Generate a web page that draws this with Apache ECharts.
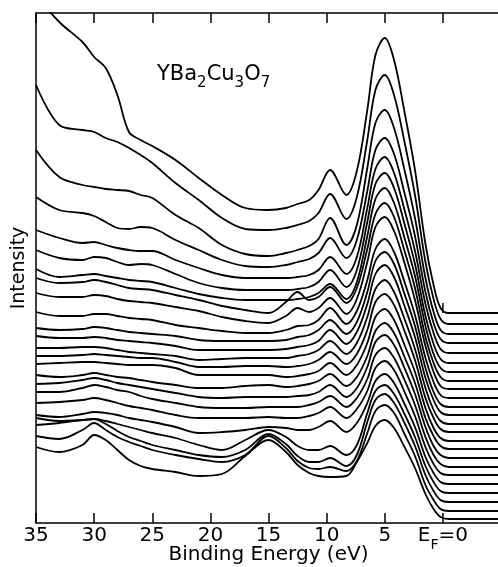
<!DOCTYPE html>
<html>
<head>
<meta charset="utf-8">
<script src="https://cdn.jsdelivr.net/npm/echarts@6/dist/echarts.min.js"></script>
<style>
html, body { margin: 0; padding: 0; background: #fff; }
#chart { width: 498px; height: 567px; }
</style>
</head>
<body>
<div id="chart"></div>
<script>
// binding energy (eV) at which every spectrum is sampled
const energies = [35, 33, 31, 30, 29, 28, 27, 26, 25, 23, 21, 19, 17, 15, 13.5, 12.5, 11.5, 10.7, 9.7, 8.3, 7.4, 6.5, 5.8, 5, 4.2, 3.3, 2.4, 1.5, 0.8, 0.2, -0.5, -5];

// intensity (arb. units, offsets included), top spectrum first
const spec01 = [528, 501, 481, 466, 455, 428, 391, 383, 377, 363, 345, 328, 315, 313, 315, 319, 323, 333, 353, 328, 352, 413, 468, 485, 463, 411, 353, 279, 238, 215, 210, 210];
const spec02 = [438, 398, 393, 391, 385, 381, 375, 368, 360, 340, 323, 305, 294, 293, 295, 298, 302, 310, 329, 304, 326, 383, 433, 448, 428, 381, 328, 261, 224, 204, 199, 199];
const spec03 = [373, 346, 338, 336, 334, 333, 332, 328, 325, 308, 295, 278, 269, 267, 270, 273, 277, 284, 305, 278, 298, 355, 400, 413, 395, 353, 305, 245, 211, 193, 189, 189];
const spec04 = [326, 313, 310, 307, 301, 295, 294, 296, 295, 283, 273, 263, 257, 256, 258, 261, 264, 270, 285, 265, 283, 332, 373, 385, 369, 330, 287, 231, 200, 184, 180, 180];
const spec05 = [293, 285, 280, 281, 278, 275, 273, 272, 272, 263, 255, 248, 245, 245, 245, 246, 248, 253, 266, 249, 266, 315, 354, 366, 350, 313, 272, 219, 190, 174, 170, 170];
const spec06 = [273, 265, 263, 266, 265, 261, 258, 259, 258, 249, 240, 235, 233, 233, 233, 234, 236, 241, 253, 236, 253, 301, 339, 350, 335, 299, 259, 207, 179, 164, 160, 160];
const spec07 = [254, 246, 248, 249, 247, 245, 243, 242, 241, 235, 229, 225, 223, 223, 223, 224, 226, 230, 239, 224, 241, 287, 324, 335, 320, 285, 247, 197, 169, 155, 151, 151];
const spec08 = [245, 240, 241, 243, 241, 238, 235, 234, 233, 228, 223, 217, 213, 210, 221, 231, 223, 226, 236, 220, 235, 274, 309, 320, 306, 272, 235, 186, 160, 146, 142, 142];
const spec09 = [230, 226, 226, 228, 227, 224, 222, 221, 220, 216, 212, 206, 202, 200, 207, 215, 211, 215, 225, 209, 224, 261, 296, 306, 292, 260, 223, 177, 151, 137, 134, 134];
const spec10 = [211, 207, 207, 209, 209, 207, 205, 204, 203, 198, 195, 192, 190, 190, 193, 197, 198, 203, 215, 199, 212, 243, 274, 284, 271, 241, 208, 165, 141, 128, 125, 125];
const spec11 = [195, 193, 194, 196, 195, 193, 191, 190, 189, 187, 183, 182, 182, 182, 183, 186, 188, 193, 203, 189, 201, 231, 262, 271, 259, 229, 197, 155, 131, 119, 116, 116];
const spec12 = [187, 185, 185, 186, 185, 183, 182, 181, 180, 177, 173, 173, 173, 173, 174, 176, 178, 182, 193, 179, 191, 219, 249, 258, 246, 217, 186, 145, 123, 111, 108, 108];
const spec13 = [175, 175, 176, 176, 175, 173, 171, 170, 169, 167, 163, 164, 165, 165, 165, 167, 169, 173, 182, 169, 180, 206, 234, 243, 231, 204, 174, 135, 113, 102, 99, 99];
const spec14 = [167, 167, 168, 169, 168, 167, 166, 165, 165, 161, 156, 156, 157, 157, 156, 157, 159, 163, 171, 159, 169, 193, 221, 229, 218, 192, 163, 125, 105, 94, 91, 91];
const spec15 = [159, 160, 161, 161, 160, 159, 158, 158, 158, 155, 148, 148, 148, 148, 146, 147, 149, 152, 160, 148, 158, 180, 206, 214, 203, 178, 151, 115, 95, 85, 82, 82];
const spec16 = [148, 146, 148, 150, 148, 146, 145, 143, 141, 138, 135, 135, 137, 138, 136, 137, 139, 142, 149, 137, 146, 167, 192, 200, 190, 166, 140, 105, 87, 77, 74, 74];
const spec17 = [139, 140, 143, 145, 143, 140, 138, 136, 134, 130, 126, 125, 126, 126, 126, 127, 128, 131, 138, 126, 135, 156, 181, 188, 178, 155, 129, 96, 77, 68, 65, 65];
const spec18 = [131, 131, 135, 138, 136, 133, 131, 127, 124, 120, 116, 115, 115, 116, 116, 116, 118, 121, 127, 116, 125, 144, 168, 175, 165, 143, 118, 86, 68, 59, 56, 56];
const spec19 = [120, 121, 123, 125, 123, 120, 117, 115, 113, 108, 105, 105, 105, 106, 105, 105, 107, 110, 116, 105, 114, 132, 155, 162, 153, 131, 107, 76, 59, 50, 48, 48];
const spec20 = [108, 106, 109, 111, 110, 108, 105, 103, 101, 96, 90, 91, 93, 96, 95, 93, 93, 96, 102, 91, 100, 120, 142, 149, 140, 119, 96, 66, 50, 41, 39, 39];
const spec21 = [105, 102, 103, 104, 102, 99, 96, 93, 90, 85, 78, 73, 83, 93, 86, 77, 73, 73, 77, 68, 78, 110, 132, 138, 129, 109, 86, 57, 41, 32, 30, 30];
const spec22 = [98, 100, 103, 104, 99, 92, 86, 82, 78, 73, 68, 66, 73, 89, 79, 67, 61, 61, 65, 57, 68, 101, 123, 129, 120, 100, 77, 48, 32, 23, 21, 21];
const spec23 = [87, 84, 93, 100, 93, 86, 81, 77, 73, 68, 64, 61, 68, 87, 75, 62, 55, 54, 56, 52, 62, 90, 112, 118, 110, 89, 67, 38, 23, 14, 12, 12];
const spec24 = [76, 71, 78, 88, 83, 73, 63, 57, 54, 51, 47, 49, 67, 83, 71, 58, 50, 47, 46, 47, 61, 80, 97, 103, 95, 76, 55, 29, 14, 6, 4, 4];

const spectra = [spec01, spec02, spec03, spec04, spec05, spec06, spec07, spec08, spec09, spec10, spec11, spec12,
  spec13, spec14, spec15, spec16, spec17, spec18, spec19, spec20, spec21, spec22, spec23, spec24];

// short Fermi-level mark on the top spectrum (energy, intensity range)
const fermiMarkE = [0, 0];
const fermiMarkI = [210, 220];

const FONT = 'DejaVu Sans';

const chart = echarts.init(document.getElementById('chart'));

const series = spectra.map((s) => ({
  type: 'line',
  data: energies.map((e, i) => [e, s[i]]),
  smooth: 0.35,
  symbol: 'none',
  clip: true,
  silent: true,
  lineStyle: { color: '#000', width: 1.8 },
}));

series.push({
  type: 'line',
  data: fermiMarkE.map((e, i) => [e, fermiMarkI[i]]),
  symbol: 'none',
  silent: true,
  lineStyle: { color: '#000', width: 1.5 },
});

const option = {
  backgroundColor: '#fff',
  animation: false,
  title: {
    text: '{a|YBa}{s|2}{a|Cu}{s|3}{a|O}{s|7}',
    left: 157,
    top: 64,
    padding: 0,
    textStyle: {
      fontWeight: 'normal',
      rich: {
        a: { fontFamily: FONT, fontSize: 21, fontWeight: 'normal', color: '#000', padding: [0, 0, 6, 0], verticalAlign: 'bottom' },
        s: { fontFamily: FONT, fontSize: 15, fontWeight: 'normal', color: '#000', verticalAlign: 'bottom' },
      },
    },
  },
  grid: {
    // 让图表占满容器
    left: 36,
    right: -3,
    top: 13,
    bottom: 44,
    containLabel: false,
    outerBoundsMode: 'none',
  },
  xAxis: [
    {
      type: 'value',
      inverse: true,
      min: -5,
      max: 35,
      interval: 5,
      position: 'bottom',
      name: 'Binding Energy (eV)',
      nameLocation: 'middle',
      nameGap: 22,
      nameMoveOverlap: false,
      nameTextStyle: { fontFamily: FONT, fontSize: 20, color: '#000' },
      axisLine: { show: true, onZero: false, lineStyle: { color: '#000', width: 1.5 } },
      axisTick: { show: true, inside: true, length: 10, lineStyle: { color: '#000', width: 1.5 } },
      splitLine: { show: false },
      axisLabel: {
        margin: 3,
        fontFamily: FONT,
        fontSize: 20,
        color: '#000',
        formatter: (v) => {
          if (v === 0) return '{e|E}{f|F}{e|=0}';
          if (v < 0) return '';
          return String(v);
        },
        rich: {
          e: { fontFamily: FONT, fontSize: 20, color: '#000', padding: [0, 0, 6, 0], verticalAlign: 'bottom' },
          f: { fontFamily: FONT, fontSize: 14, color: '#000', verticalAlign: 'bottom' },
        },
      },
    },
    {
      type: 'value',
      inverse: true,
      min: -5,
      max: 35,
      interval: 5,
      position: 'top',
      axisLine: { show: true, onZero: false, lineStyle: { color: '#000', width: 1.5 } },
      axisTick: { show: true, inside: true, length: 10, lineStyle: { color: '#000', width: 1.5 } },
      axisLabel: { show: false },
      splitLine: { show: false },
    },
  ],
  yAxis: {
    type: 'value',
    min: 0,
    max: 510,
    name: 'Intensity',
    nameLocation: 'middle',
    nameGap: 7,
    nameMoveOverlap: false,
    nameRotate: 90,
    nameTextStyle: { fontFamily: FONT, fontSize: 19, color: '#000' },
    axisLine: { show: true, onZero: false, lineStyle: { color: '#000', width: 1.5 } },
    axisTick: { show: false },
    axisLabel: { show: false },
    splitLine: { show: false },
  },
  series: series,
};

chart.setOption(option);
</script>
</body>
</html>
